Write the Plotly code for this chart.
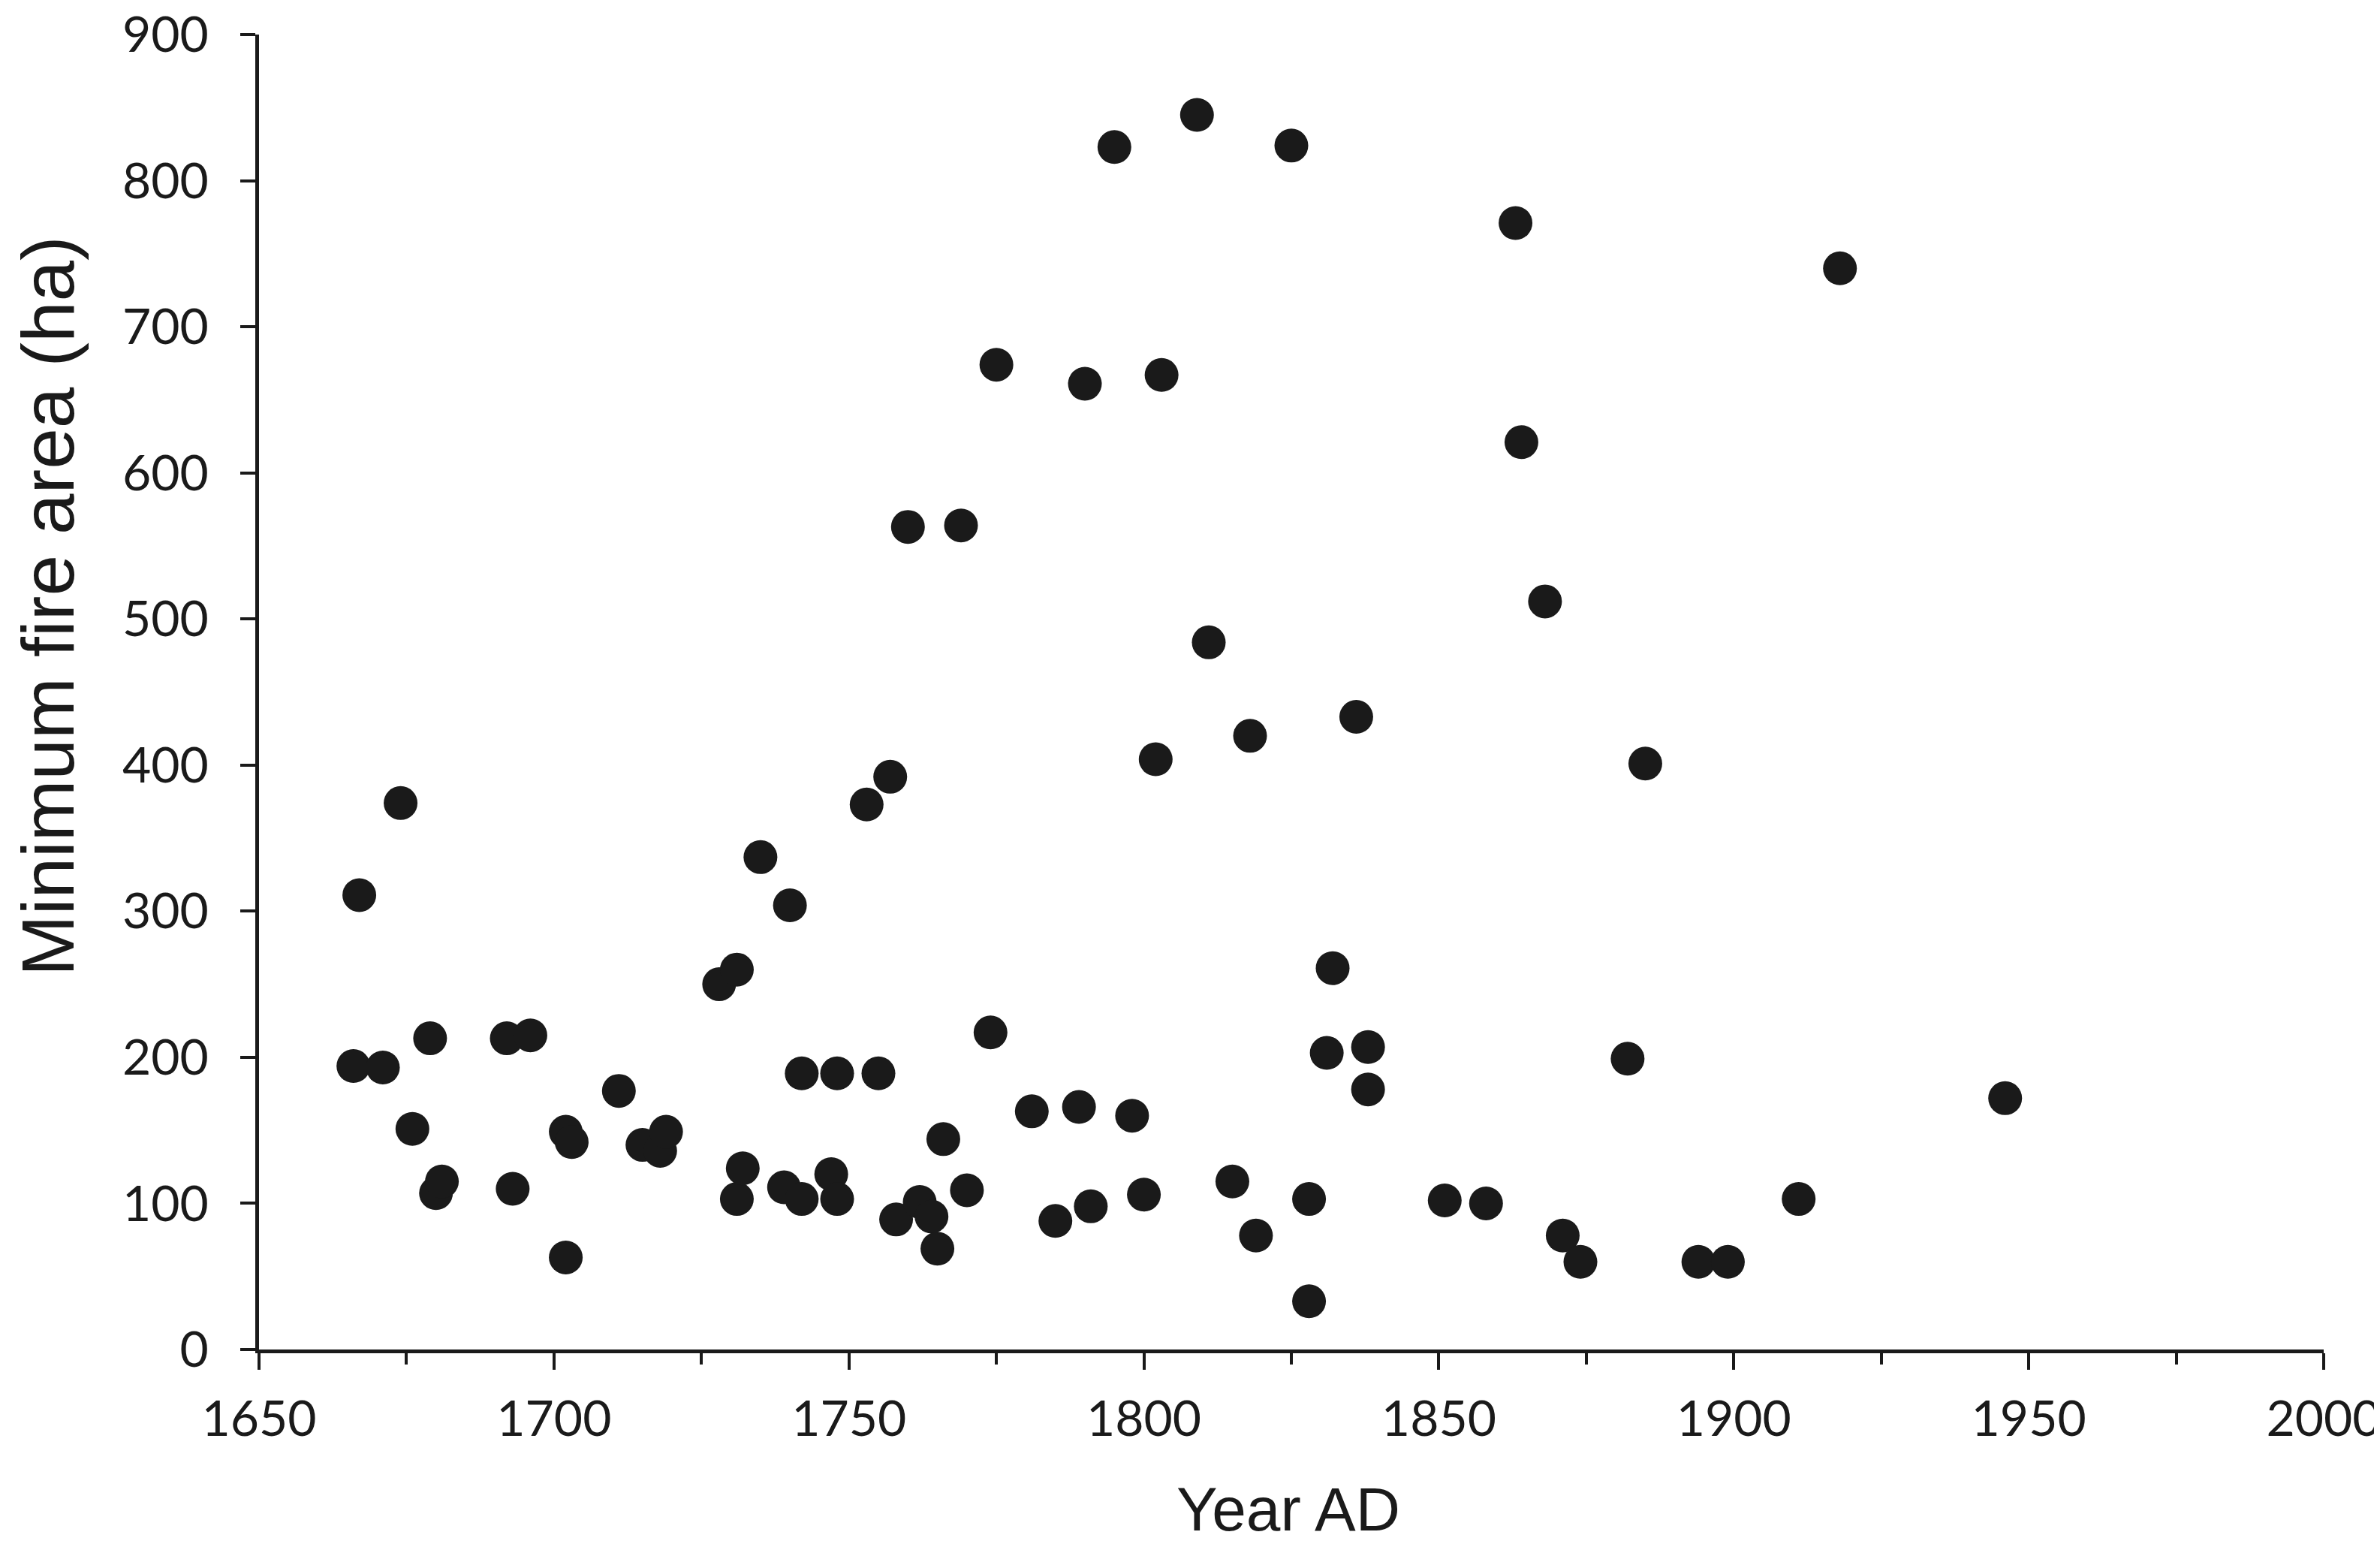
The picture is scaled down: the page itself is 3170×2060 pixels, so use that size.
import plotly.graph_objects as go

# fire years (AD) and minimum fire area (ha)
years = [1666, 1667, 1671, 1674, 1676, 1679, 1680, 1681, 1692, 1693,
         1696, 1702, 1702, 1703, 1711, 1715, 1718, 1719, 1728, 1731,
         1731, 1732, 1735, 1739, 1740, 1742, 1742, 1747, 1748, 1748,
         1753, 1755, 1757, 1758, 1760, 1762, 1764, 1765, 1766, 1769,
         1770, 1774, 1775, 1781, 1785, 1789, 1790, 1791, 1795, 1798,
         1800, 1802, 1803, 1809, 1811, 1815, 1818, 1819, 1825, 1828,
         1828, 1831, 1832, 1836, 1838, 1838, 1851, 1858, 1863, 1864,
         1868, 1871, 1874, 1882, 1885, 1894, 1899, 1911, 1918, 1946]
area = [194, 311, 193, 374, 151, 213, 107, 115, 213, 110,
        215, 63, 149, 142, 177, 140, 136, 149, 250, 260,
        103, 124, 337, 111, 304, 189, 103, 120, 189, 103,
        373, 189, 392, 89, 563, 101, 91, 69, 144, 564,
        109, 217, 674, 163, 88, 166, 661, 98, 823, 160,
        106, 404, 667, 845, 484, 115, 420, 78, 824, 103,
        33, 203, 261, 433, 207, 178, 102, 100, 771, 621,
        512, 78, 60, 199, 401, 60, 60, 103, 740, 172]

x_ticks = [1650, 1700, 1750, 1800, 1850, 1900, 1950, 2000]
y_ticks = [0, 100, 200, 300, 400, 500, 600, 700, 800, 900]

ink = "#1a1a1a"
tick_font = dict(family="Lato, Open Sans, sans-serif", size=66, color=ink)
title_font = dict(family="Liberation Sans, Arial, sans-serif", size=82, color=ink)

fig = go.Figure()
fig.add_trace(go.Scatter(x=years, y=area, mode="markers",
                         marker=dict(size=45, color=ink, line=dict(width=0)),
                         showlegend=False))

fig.update_layout(
    width=3170, height=2060,
    plot_bgcolor="white", paper_bgcolor="white",
    margin=dict(l=337, r=83, t=38, b=271),
)

fig.update_xaxes(range=[1650, 2000], tickvals=x_ticks, ticks="outside",
                 ticklen=22, tickwidth=4, tickcolor=ink,
                 showline=True, linewidth=5, linecolor=ink,
                 showgrid=False, zeroline=False, tickfont=tick_font,
                 ticklabelstandoff=9, ticklabeloverflow="allow", automargin=False,
                 minor=dict(dtick=25, tick0=1650, ticks="outside", ticklen=15,
                            tickwidth=4, tickcolor=ink, showgrid=False))
fig.update_yaxes(range=[0, 900], tickvals=y_ticks, ticks="outside",
                 ticklen=20, tickwidth=4, tickcolor=ink,
                 showline=True, linewidth=5, linecolor=ink,
                 showgrid=False, zeroline=False, tickfont=tick_font,
                 ticklabelstandoff=29, ticklabeloverflow="allow", automargin=False)

fig.add_annotation(text="Year AD", xref="paper", yref="paper", x=0.4985, y=-0.1216,
                   showarrow=False, font=title_font, xanchor="center", yanchor="middle")
fig.add_annotation(text="Minimum fire area (ha)", xref="paper", yref="paper",
                   x=-0.1022, y=0.5654, textangle=-90, showarrow=False,
                   font=dict(family="Liberation Sans, Arial, sans-serif", size=98, color=ink),
                   xanchor="center", yanchor="middle")

fig.write_html("out.html")
